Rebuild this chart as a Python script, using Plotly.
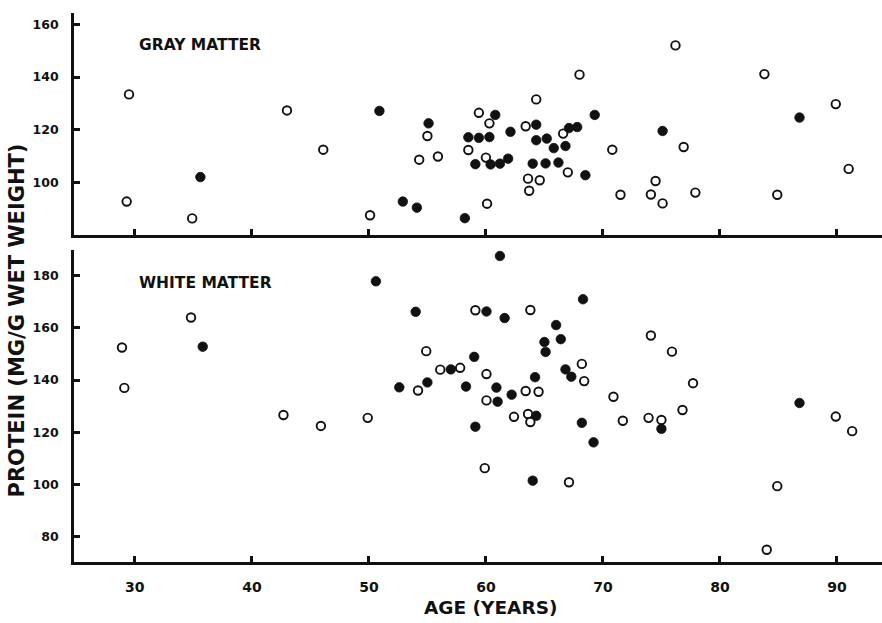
import plotly.graph_objects as go

# ---------------- data ----------------
gray_open_age = [29.5, 29.3, 34.9, 43.0, 46.1, 50.1, 55.0, 54.3, 55.9, 58.5, 59.4, 60.3,
                 60.0, 60.1, 64.3, 63.4, 68.0, 66.6, 63.6, 64.6, 63.7, 67.0, 76.2, 70.8,
                 76.9, 71.5, 74.5, 74.1, 75.1, 77.9, 83.8, 84.9, 89.9, 91.0]
gray_open_protein = [133.4, 92.7, 86.3, 127.3, 112.4, 87.5, 117.6, 108.6, 109.8, 112.3, 126.4, 122.4,
                     109.4, 91.9, 131.5, 121.3, 140.9, 118.5, 101.4, 100.8, 96.8, 103.8, 152.0, 112.4,
                     113.4, 95.3, 100.5, 95.4, 92.0, 96.1, 141.1, 95.3, 129.7, 105.1]

gray_filled_age = [35.6, 50.9, 55.1, 52.9, 54.1, 58.2, 58.5, 59.4, 60.3, 60.8, 62.1, 64.3,
                   64.3, 65.2, 65.8, 66.8, 67.1, 67.8, 69.3, 59.1, 60.4, 61.2, 61.9, 64.0,
                   65.1, 66.2, 68.5, 75.1, 86.8]
gray_filled_protein = [102.0, 127.1, 122.4, 92.7, 90.4, 86.4, 117.1, 116.9, 117.2, 125.6, 119.2, 121.9,
                       116.0, 116.6, 113.0, 113.8, 120.6, 121.0, 125.6, 106.9, 106.8, 107.1, 109.0, 107.1,
                       107.2, 107.5, 102.7, 119.5, 124.6]

white_open_age = [28.9, 29.1, 34.8, 42.7, 45.9, 49.9, 54.9, 54.2, 56.1, 57.8, 59.1, 63.8,
                  60.05, 60.05, 63.4, 64.5, 62.4, 63.6, 63.8, 68.2, 68.4, 70.9, 71.7, 73.9,
                  75.0, 74.1, 75.9, 77.7, 76.8, 59.9, 67.1, 89.9, 91.3, 84.9, 84.0]
white_open_protein = [152.5, 137.0, 164.0, 126.6, 122.4, 125.5, 151.1, 136.0, 144.0, 144.7, 166.8, 166.9,
                      142.3, 132.2, 135.8, 135.5, 125.9, 127.0, 123.9, 146.2, 139.6, 133.6, 124.4, 125.5,
                      124.7, 157.1, 150.9, 138.8, 128.5, 106.2, 100.8, 126.0, 120.4, 99.3, 74.9]

white_filled_age = [35.8, 50.6, 54.0, 52.6, 55.0, 57.0, 58.3, 59.0, 59.1, 61.2, 60.05, 61.6,
                    68.3, 66.0, 66.4, 65.0, 65.1, 66.8, 67.3, 64.2, 60.9, 62.2, 61.0, 64.3,
                    68.2, 69.2, 64.0, 75.0, 86.8]
white_filled_protein = [152.8, 177.9, 166.2, 137.2, 139.1, 144.1, 137.5, 148.9, 122.1, 187.6, 166.3, 163.8,
                        171.0, 161.1, 155.7, 154.6, 150.8, 144.1, 141.3, 141.1, 137.1, 134.4, 131.7, 126.3,
                        123.6, 116.1, 101.4, 121.3, 131.2]

x_ticks = [30, 40, 50, 60, 70, 80, 90]
gray_y_ticks = [100, 120, 140, 160]
white_y_ticks = [80, 100, 120, 140, 160, 180]

panel_labels = ["GRAY MATTER", "WHITE MATTER"]
x_title = "AGE (YEARS)"
y_title = "PROTEIN (MG/G WET WEIGHT)"

# ---------------- styling ----------------
INK = "#111111"
FONT = "DejaVu Sans"
open_marker = dict(symbol="circle", size=8.5, color="white", line=dict(color=INK, width=1.9))
filled_marker = dict(symbol="circle", size=9.5, color=INK, line=dict(color=INK, width=0.8))

fig = go.Figure()
# bottom panel: white matter (x, y)
fig.add_trace(go.Scatter(x=white_open_age, y=white_open_protein, mode="markers",
                         marker=open_marker, xaxis="x", yaxis="y", showlegend=False))
fig.add_trace(go.Scatter(x=white_filled_age, y=white_filled_protein, mode="markers",
                         marker=filled_marker, xaxis="x", yaxis="y", showlegend=False))
# top panel: gray matter (x2, y2)
fig.add_trace(go.Scatter(x=gray_open_age, y=gray_open_protein, mode="markers",
                         marker=open_marker, xaxis="x2", yaxis="y2", showlegend=False))
fig.add_trace(go.Scatter(x=gray_filled_age, y=gray_filled_protein, mode="markers",
                         marker=filled_marker, xaxis="x2", yaxis="y2", showlegend=False))

x_range = [24.8, 93.85]
axis_common = dict(showline=True, linecolor=INK, linewidth=2.8, ticks="inside",
                   ticklen=6, tickwidth=2.5, tickcolor=INK, showgrid=False, zeroline=False)
xtick_font = dict(family=FONT, size=14, color=INK, weight="bold")
ytick_font = dict(family=FONT, size=12.5, color=INK, weight="bold")

fig.update_layout(
    width=882, height=623,
    margin=dict(l=74, r=0, t=13, b=61),
    paper_bgcolor="white", plot_bgcolor="white",
    font=dict(family=FONT, color=INK),
    xaxis=dict(domain=[0, 1], anchor="y", range=x_range, tickvals=x_ticks,
               tickfont=xtick_font, ticklabelstandoff=10, **axis_common),
    xaxis2=dict(domain=[0, 1], anchor="y2", range=x_range, tickvals=x_ticks,
                showticklabels=False, matches="x", **axis_common),
    yaxis=dict(domain=[0, 0.5683], anchor="x", range=[70.2, 189.9], tickvals=white_y_ticks,
               tickfont=ytick_font, ticklabelstandoff=10, **axis_common),
    yaxis2=dict(domain=[0.5956, 1], anchor="x2", range=[80, 164.3], tickvals=gray_y_ticks,
                tickfont=ytick_font, ticklabelstandoff=10, **axis_common),
    annotations=[
        dict(text="<b>%s</b>" % panel_labels[0], x=30.15, y=152.0, xref="x2", yref="y2",
             xanchor="left", yanchor="middle", showarrow=False,
             font=dict(family=FONT, size=15.5, color=INK)),
        dict(text="<b>%s</b>" % panel_labels[1], x=30.15, y=177.2, xref="x", yref="y",
             xanchor="left", yanchor="middle", showarrow=False,
             font=dict(family=FONT, size=15.5, color=INK)),
        dict(text="<b>%s</b>" % x_title, x=0.515, y=-0.0835, xref="paper", yref="paper",
             xanchor="center", yanchor="middle", showarrow=False,
             font=dict(family=FONT, size=18.5, color=INK)),
        dict(text="<b>%s</b>" % y_title, x=-0.0705, y=0.44, xref="paper", yref="paper",
             xanchor="center", yanchor="middle", textangle=-90, showarrow=False,
             font=dict(family=FONT, size=21, color=INK)),
    ],
)

fig.write_html("out.html")
